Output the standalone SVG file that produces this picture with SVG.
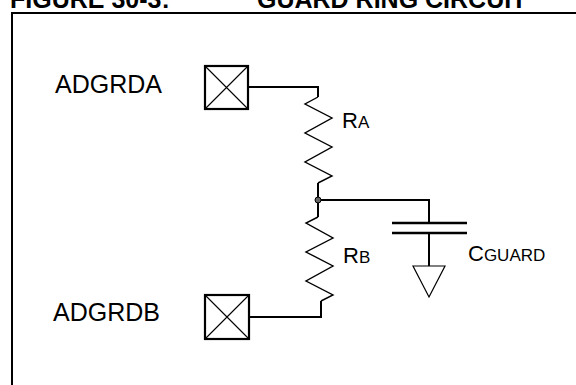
<svg xmlns="http://www.w3.org/2000/svg" width="576" height="385" viewBox="0 0 576 385">
<style>
text{font-family:"Liberation Sans",Arial,sans-serif;fill:#000}
.t{font-weight:bold;font-size:25px}
.lbl{font-size:25px}
.big{font-size:22px}
.sm{font-size:17px}
.w{fill:none;stroke:#000;stroke-width:2}
.z{fill:none;stroke:#000;stroke-width:1.4;stroke-linejoin:miter}
.pad{fill:#fff;stroke:#000;stroke-width:2.2}
.x{stroke:#000;stroke-width:1.1}
</style>
<rect width="576" height="385" fill="#fff"/>
<text class="t" x="10" y="7.5">FIGURE 30-3:</text>
<text class="t" x="257" y="7.5">GUARD RING CIRCUIT</text>
<path d="M12,386 V13 H577" fill="none" stroke="#000" stroke-width="2"/>

<g id="connectors">
<path class="w" d="M248,87 H318 V97"/>
<path class="z" d="M318,97 L305,104 L332,118 L305,133 L332,147 L305,162 L332,176 L318,183"/>
<path class="w" d="M318,183 V217"/>
<path class="w" d="M318,200 H429 V223"/>
<path class="z" d="M318,217 L306,223 L333,238 L306,252 L333,266 L306,281 L333,295 L321,301"/>
<path class="w" d="M321,301 V317 H249"/>
<path class="w" d="M429,233 V266"/>
</g>

<g id="ADGRDA">
<text class="lbl" x="55" y="93">ADGRDA</text>
<rect class="pad" x="205" y="66" width="43" height="43"/>
<path class="x" d="M205,66 L248,109 M248,66 L205,109"/>
</g>

<g id="ADGRDB">
<text class="lbl" x="53" y="321">ADGRDB</text>
<rect class="pad" x="205" y="295" width="44" height="44"/>
<path class="x" d="M205,295 L249,339 M249,295 L205,339"/>
</g>

<g id="RA">
<text x="342" y="128"><tspan class="big">R</tspan><tspan class="sm">A</tspan></text>
</g>

<g id="RB">
<text x="343" y="263"><tspan class="big">R</tspan><tspan class="sm">B</tspan></text>
</g>

<g id="node">
<circle cx="318" cy="200" r="3" fill="#666" stroke="#000" stroke-width="1"/>
</g>

<g id="CGUARD">
<path d="M392,223 H467 M392,233 H467" stroke="#000" stroke-width="2.5"/>
<text x="468" y="261"><tspan class="big">C</tspan><tspan class="sm">GUARD</tspan></text>
</g>

<g id="ground">
<path d="M413,266 H445 L429,297 Z" fill="#fff" stroke="#000" stroke-width="1.2" stroke-linejoin="miter"/>
</g>
</svg>
